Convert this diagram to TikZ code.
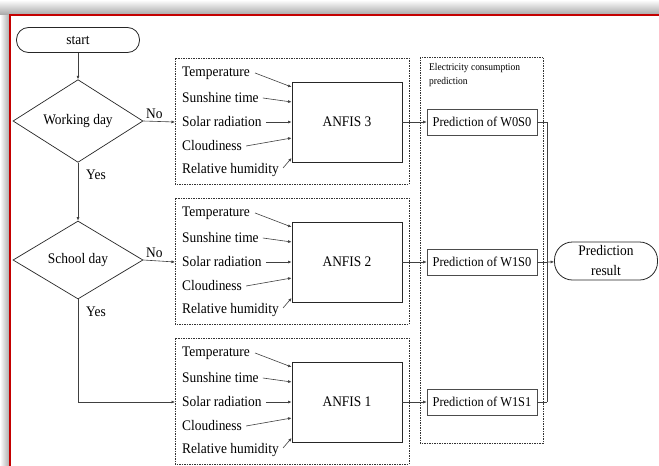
\documentclass[tikz,border=0pt]{standalone}
\usepackage{fontspec}
\setmainfont[FakeStretch=0.92]{Liberation Serif}
\usetikzlibrary{arrows.meta,shapes.geometric}

\definecolor{framered}{RGB}{196,0,0}
\newcommand{\chartfont}{\fontsize{14.6}{16}\selectfont}
\newcommand{\predfont}{\fontsize{13.5}{15}\selectfont}

\tikzset{
  flowline/.style={line width=0.6pt,draw=black!75,-{Latex[length=3.5pt,width=3pt]}},
  plainline/.style={line width=0.6pt,draw=black!75},
  groupbox/.style={draw=black!80,line width=0.6pt,dash pattern=on 1.5pt off 1pt},
  terminal/.style={draw=black!85,line width=0.8pt,rounded corners=12pt,minimum width=123pt,minimum height=25pt,inner sep=0pt,font=\chartfont},
  decision/.style={draw=black!85,diamond,line width=0.7pt,minimum width=130pt,minimum height=78pt,inner sep=0pt,font=\chartfont},
  anfisbox/.style={draw=black!85,line width=0.8pt,minimum width=110pt,minimum height=80pt,inner sep=0pt,font=\chartfont},
  predbox/.style={draw=black!70,line width=0.6pt,minimum width=110pt,minimum height=26pt,inner sep=0pt,font=\predfont},
  inputlabel/.style={anchor=west,inner sep=0pt,font=\chartfont},
  branchlabel/.style={inner sep=0pt,font=\chartfont}
}

\begin{document}
\begin{tikzpicture}[x=1pt,y=-1pt]
  \useasboundingbox (0,0) rectangle (659,466);

  % Drawing the frame with its shadow
  \fill[black!20] (0,0) rectangle (659,466);
  \shade[top color=white,bottom color=black!35] (0,0) rectangle (659,15);
  \shade[left color=white,right color=black!35] (0,15) rectangle (10,466);
  \fill[white] (10,15) rectangle (659,466);
  \draw[framered,line width=2pt] (10,466) -- (10,15) -- (659,15);

  % Drawing the decisions
  \node[terminal] (start) at (78,40) {start};
  \node[decision] (work) at (78,121) {Working day};
  \node[decision] (school) at (78,260) {School day};
  \draw[flowline] (start) -- (work);
  \draw[flowline] (work) -- (school);
  \node[branchlabel] (yeswork) at (96,175) {Yes};
  \node[branchlabel] (yesschool) at (96,312) {Yes};
  \node[branchlabel] (nowork) at ([xshift=11pt,yshift=7pt]work.east) {No};
  \node[branchlabel] (noschool) at ([xshift=11pt,yshift=7pt]school.east) {No};

  % Drawing the prediction block
  \draw[groupbox] (420,57) rectangle (543,443);
  \node[anchor=north west,inner sep=0pt,align=left,font=\fontsize{10.3}{14}\selectfont] (predtitle) at (429,63) {Electricity consumption\\prediction};

  % Drawing the three ANFIS groups
  \foreach \y/\n/\p in {122/3/W0S0, 262/2/W1S0, 402/1/W1S1} {
    \draw[groupbox] (175,\y-64) rectangle (409,\y+62);
    \coordinate (in\n) at (175,\y);
    \node[anfisbox] (anfis\n) at (347,\y) {ANFIS \n};
    \node[inputlabel] (temp\n) at (182,\y-49) {Temperature};
    \node[inputlabel] (sun\n) at (182,\y-24) {Sunshine time};
    \node[inputlabel] (solar\n) at (182,\y) {Solar radiation};
    \node[inputlabel] (cloud\n) at (182,\y+24) {Cloudiness};
    \node[inputlabel] (hum\n) at (182,\y+48) {Relative humidity};
    \draw[flowline] ([xshift=5pt]temp\n.east) -- (anfis\n.west |- 0,\y-35);
    \draw[flowline] ([xshift=4pt]sun\n.east) -- (anfis\n.west |- 0,\y-20);
    \draw[flowline] ([xshift=4pt]solar\n.east) -- (anfis\n.west);
    \draw[flowline] ([xshift=4pt]cloud\n.east) -- (anfis\n.west |- 0,\y+16);
    \draw[flowline] ([xshift=4pt,yshift=2pt]hum\n.east) -- (anfis\n.west |- 0,\y+36);
    \node[predbox] (pred\n) at (482,\y) {Prediction of \p};
    \draw[flowline] (anfis\n) -- (pred\n);
    \coordinate (collect\n) at (547,\y);
    \draw[plainline] (pred\n) -- (collect\n);
  }

  % Drawing the branches into the groups
  \draw[flowline] (work.east) -- (in3);
  \draw[flowline] (school.east) -- (in2);
  \draw[flowline] (school.south) |- (in1);

  % Drawing the result
  \node[terminal,rounded corners=18pt,minimum width=103pt,minimum height=38pt,align=center,font=\fontsize{14.6}{20}\selectfont] (result) at (606,261) {Prediction\\result};
  \draw[plainline] (collect3) -- (collect1);
  \draw[flowline] (collect2) -- (result);
\end{tikzpicture}
\end{document}
